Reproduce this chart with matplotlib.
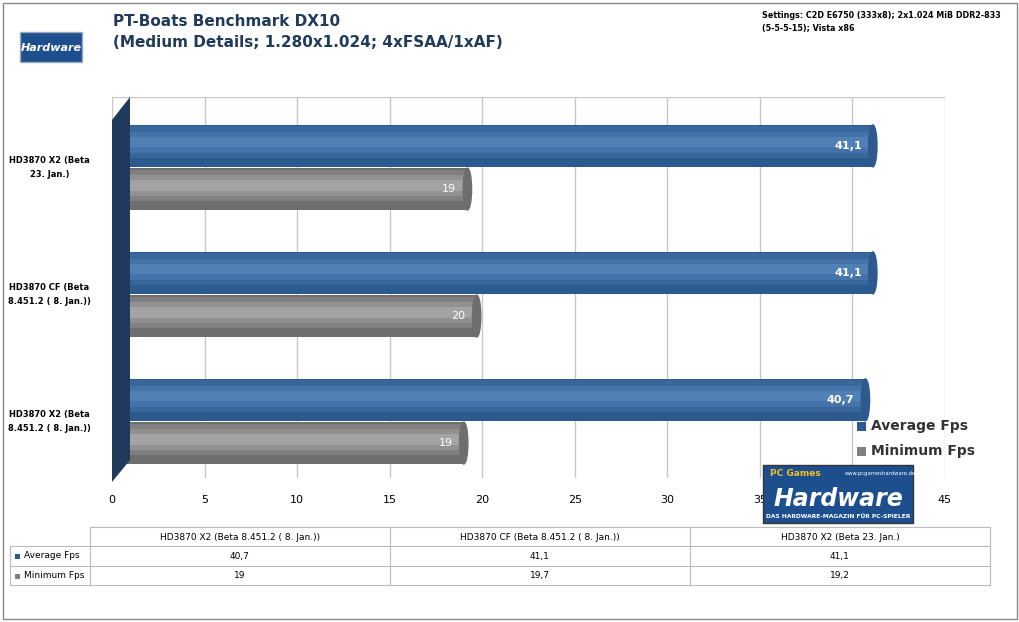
import matplotlib
matplotlib.use("Agg")
import matplotlib.pyplot as plt
import numpy as np
from matplotlib.patches import Rectangle, Polygon

categories = ["HD3870 X2 (Beta 8.451.2 ( 8. Jan.))", "HD3870 CF (Beta 8.451.2 ( 8. Jan.))", "HD3870 X2 (Beta 23. Jan.)"]
cat_labels = ["HD3870 X2 (Beta\n8.451.2 ( 8. Jan.))", "HD3870 CF (Beta\n8.451.2 ( 8. Jan.))", "HD3870 X2 (Beta\n23. Jan.)"]
avg = [40.7, 41.1, 41.1]
mn = [19, 19.7, 19.2]
xticks = [0, 5, 10, 15, 20, 25, 30, 35, 40, 45]

W, H = 1020, 622
fig = plt.figure(figsize=(W/100, H/100), dpi=100)
fig.patch.set_facecolor("white")
fig.add_artist(Rectangle((3/W, 3/H), 1014/W, 616/H, transform=fig.transFigure, fill=False, ec="#888888", lw=1))

def fx(x): return x/W
def fy(y): return 1-y/H

ax = fig.add_axes([fx(112), fy(478), (945-112)/W, (478-97)/H])
ax.set_xlim(0, 45)
ax.set_ylim(-0.445, 2.555)
for t in xticks:
    ax.axvline(t, color="#c8c8c8", lw=1, zorder=0)
ax.axhline(2.555, color="#c8c8c8", lw=1)
for s in ax.spines.values():
    s.set_visible(False)
ax.set_xticks(xticks)
ax.set_xticklabels([str(t) for t in xticks], fontsize=8)
ax.tick_params(axis="x", length=0, pad=12)
ax.set_yticks([])
for i, lab in enumerate(cat_labels):
    ax.text(-0.075, i, lab, transform=ax.get_yaxis_transform(), fontsize=6, fontweight="bold",
            ha="center", va="center", linespacing=1.6)

fig.add_artist(Polygon([(fx(112), fy(120)), (fx(130), fy(97)), (fx(130), fy(460)), (fx(112), fy(482))],
                       closed=True, transform=fig.transFigure, fc="#1f3a5a", ec="none", zorder=1))

h = 0.33
def cyl(y, v, base, light):
    ax.barh(y, v, height=h, color=base, zorder=3)
    for k, f in enumerate([0.75, 0.5, 0.25]):
        c = np.array(matplotlib.colors.to_rgb(base)) * (1-(k+1)/4) + np.array(matplotlib.colors.to_rgb(light)) * ((k+1)/4)
        ax.barh(y + 0.03, v, height=h*f, color=c, zorder=3+k)
    ax.add_patch(matplotlib.patches.Ellipse((v, y), 0.45, h, color=base, zorder=8))

for i in range(3):
    cyl(i + 0.17, avg[i], "#2d5a8e", "#5d8cc4")
    cyl(i - 0.17, mn[i], "#6e6e6e", "#b4b4b4")
    ax.text(avg[i] - 0.6, i + 0.17, f"{avg[i]:.1f}".replace(".", ","), color="white", fontsize=8, fontweight="bold", ha="right", va="center", zorder=10)
    ax.text(mn[i] - 0.6, i - 0.17, f"{mn[i]:.0f}", color="white", fontsize=8, ha="right", va="center", zorder=10)

fig.add_artist(Rectangle((fx(857), fy(431)), 9/W, 9/H, transform=fig.transFigure, fc="#2d5a8e", ec="none"))
fig.text(fx(871), fy(426), "Average Fps", fontsize=10, fontweight="bold", color="#333333", va="center")
fig.add_artist(Rectangle((fx(857), fy(456)), 9/W, 9/H, transform=fig.transFigure, fc="#808080", ec="none"))
fig.text(fx(871), fy(451), "Minimum Fps", fontsize=10, fontweight="bold", color="#333333", va="center")

fig.text(fx(113), fy(32), "PT-Boats Benchmark DX10\n(Medium Details; 1.280x1.024; 4xFSAA/1xAF)", fontsize=11, fontweight="bold",
         color="#1f3a5a", va="center", linespacing=1.5)
fig.text(fx(762), fy(22), "Settings: C2D E6750 (333x8); 2x1.024 MiB DDR2-833\n(5-5-5-15); Vista x86", fontsize=5.8, fontweight="bold",
         va="center", linespacing=1.6)

fig.add_artist(Rectangle((fx(20), fy(62)), 62/W, 30/H, transform=fig.transFigure, fc="#1d4f8f", ec="#9ab", zorder=2))
fig.text(fx(51), fy(48), "Hardware", fontsize=8, fontweight="bold", fontstyle="italic", color="white", ha="center", va="center", zorder=3)
fig.add_artist(Rectangle((fx(763), fy(523)), 150/W, 58/H, transform=fig.transFigure, fc="#1d4f8f", ec="#333", zorder=12))
fig.text(fx(838), fy(499), "Hardware", fontsize=17, fontweight="bold", fontstyle="italic", color="white", ha="center", va="center", zorder=13)
fig.text(fx(838), fy(516), "DAS HARDWARE-MAGAZIN FÜR PC-SPIELER", fontsize=4.3, fontweight="bold", color="white", ha="center", va="center", zorder=13)
fig.text(fx(795), fy(474), "PC Games", fontsize=6.5, fontweight="bold", color="#f0c020", ha="center", va="center", zorder=13)
fig.text(fx(880), fy(474), "www.pcgameshardware.de", fontsize=3.8, color="white", ha="center", va="center", zorder=13)

cols = [10, 90, 390, 690, 990]
rows = [527, 546, 566, 585]
lc = "#bbbbbb"
for y in rows:
    x0 = 90 if y == 527 else 10
    fig.add_artist(plt.Line2D([fx(x0), fx(990)], [fy(y), fy(y)], transform=fig.transFigure, color=lc, lw=0.8))
for x in cols:
    y0 = 546 if x == 10 else 527
    fig.add_artist(plt.Line2D([fx(x), fx(x)], [fy(y0), fy(585)], transform=fig.transFigure, color=lc, lw=0.8))
for j, c in enumerate(categories):
    fig.text(fx((cols[j+1]+cols[j+2])/2), fy(537), c, fontsize=6.5, ha="center", va="center")
for r, (name, vals, colr) in enumerate([("Average Fps", avg, "#2d5a8e"), ("Minimum Fps", mn, "#808080")]):
    yc = (rows[r+1]+rows[r+2])/2
    fig.add_artist(Rectangle((fx(15), fy(yc+3)), 5/W, 5/H, transform=fig.transFigure, fc=colr, ec="none"))
    fig.text(fx(24), fy(yc), name, fontsize=6.5, va="center")
    for j, v in enumerate(vals):
        s = (f"{v:g}").replace(".", ",")
        fig.text(fx((cols[j+1]+cols[j+2])/2), fy(yc), s, fontsize=6.5, ha="center", va="center")

fig.savefig("out.png", dpi=100)
